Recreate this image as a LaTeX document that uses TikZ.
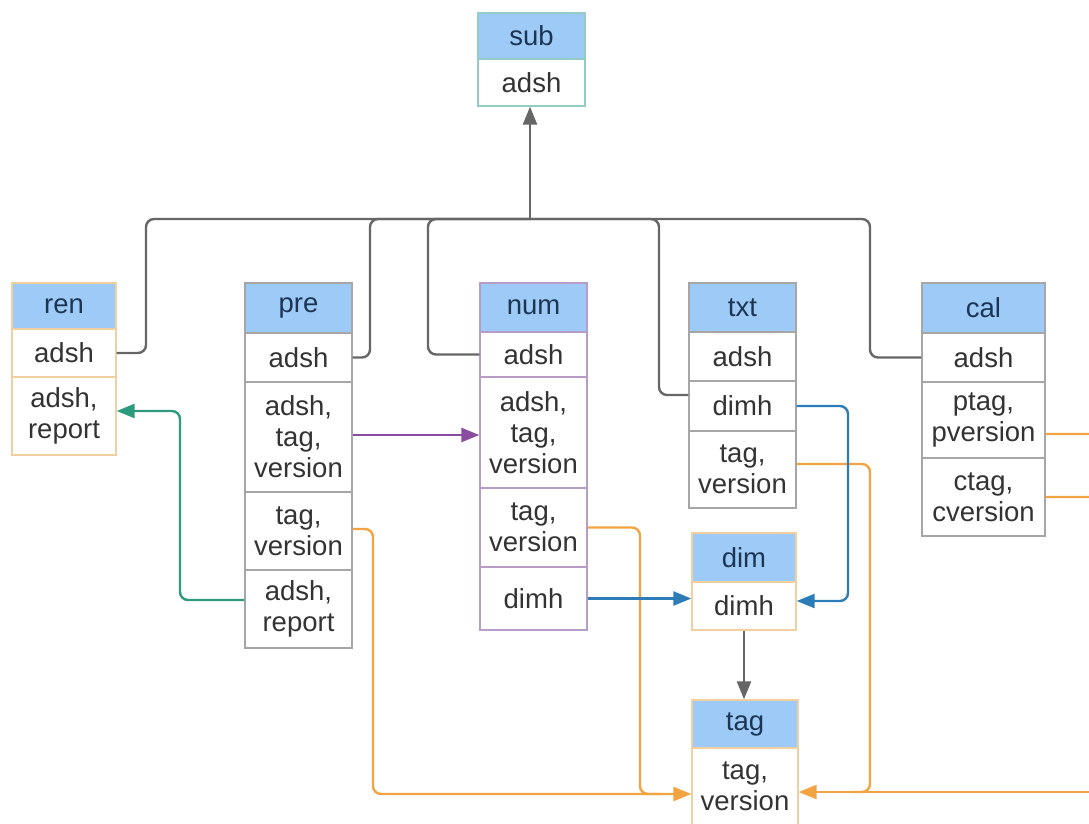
\documentclass[tikz,border=0pt]{standalone}
\usepackage{fontspec}
\setmainfont{Liberation Sans}
\usetikzlibrary{arrows.meta,calc}
\definecolor{hdrblue}{HTML}{9DCAF6}
\definecolor{hdrtext}{HTML}{1C3553}
\definecolor{celltext}{HTML}{333333}
\definecolor{gline}{HTML}{666666}
\definecolor{gbox}{HTML}{A6A6A6}
\definecolor{obox}{HTML}{F2CF9E}
\definecolor{pbox}{HTML}{B79CC8}
\definecolor{tbox}{HTML}{93CBC5}
\definecolor{purplelink}{HTML}{8A4C9E}
\definecolor{greenlink}{HTML}{2E9A7D}
\definecolor{orangelink}{HTML}{F2A443}
\definecolor{bluelink}{HTML}{2C7CB8}
\tikzset{
  txtfont/.style={font=\fontsize{27.5}{31}\selectfont},
  hdr/.style={draw=#1, fill=hdrblue, text=hdrtext, inner sep=0pt, line width=1.3pt, txtfont},
  cell/.style={draw=#1, fill=white, text=celltext, inner sep=0pt, align=center, line width=1.3pt, txtfont},
  link/.style={line width=2.4pt, rounded corners=8pt},
  arr/.style={-{Triangle[length=18pt,width=14pt]}},
}
\begin{document}
\begin{tikzpicture}[x=1pt,y=-1pt]
\useasboundingbox (0,0) rectangle (1089,823);
\clip (0,0) rectangle (1089,823);

% ---- sub
\node[hdr=tbox, minimum width=107pt, minimum height=46pt] (sub) at (531.5,36) {sub};
\node[cell=tbox, minimum width=107pt, minimum height=47pt] (subA) at (531.5,82.5) {adsh};

% ---- ren
\node[hdr=obox, minimum width=104pt, minimum height=46pt] (ren) at (64,306) {ren};
\node[cell=obox, minimum width=104pt, minimum height=48pt] (renA) at (64,353) {adsh};
\node[cell=obox, minimum width=104pt, minimum height=78pt] (renR) at (64,416) {adsh,\\report};

% ---- pre
\node[hdr=gbox, minimum width=107pt, minimum height=50pt] (pre) at (298.5,308) {pre};
\node[cell=gbox, minimum width=107pt, minimum height=49pt] (preA) at (298.5,357.5) {adsh};
\node[cell=gbox, minimum width=107pt, minimum height=110pt] (preATV) at (298.5,437) {adsh,\\tag,\\version};
\node[cell=gbox, minimum width=107pt, minimum height=78pt] (preTV) at (298.5,531) {tag,\\version};
\node[cell=gbox, minimum width=107pt, minimum height=78pt] (preAR) at (298.5,609) {adsh,\\report};

% ---- num
\node[hdr=pbox, minimum width=107pt, minimum height=49pt] (num) at (533.5,307.5) {num};
\node[cell=pbox, minimum width=107pt, minimum height=45pt] (numA) at (533.5,354.5) {adsh};
\node[cell=pbox, minimum width=107pt, minimum height=111pt] (numATV) at (533.5,432.5) {adsh,\\tag,\\version};
\node[cell=pbox, minimum width=107pt, minimum height=79pt] (numTV) at (533.5,527.5) {tag,\\version};
\node[cell=pbox, minimum width=107pt, minimum height=63pt] (numD) at (533.5,598.5) {dimh};

% ---- txt
\node[hdr=gbox, minimum width=107pt, minimum height=49pt] (txt) at (742.5,307.5) {txt};
\node[cell=gbox, minimum width=107pt, minimum height=49pt] (txtA) at (742.5,356.5) {adsh};
\node[cell=gbox, minimum width=107pt, minimum height=50pt] (txtD) at (742.5,406) {dimh};
\node[cell=gbox, minimum width=107pt, minimum height=77pt] (txtTV) at (742.5,469.5) {tag,\\version};

% ---- dim
\node[hdr=obox, minimum width=104pt, minimum height=49pt] (dim) at (744,557.5) {dim};
\node[cell=obox, minimum width=104pt, minimum height=48pt] (dimD) at (744,606) {dimh};

% ---- tag
\node[hdr=obox, minimum width=106pt, minimum height=48pt] (tag) at (745,724) {tag};
\node[cell=obox, minimum width=106pt, minimum height=77pt] (tagB) at (745,786.5) {tag,\\version};

% ---- cal
\node[hdr=gbox, minimum width=123pt, minimum height=50pt] (cal) at (983.5,308) {cal};
\node[cell=gbox, minimum width=123pt, minimum height=49pt] (calA) at (983.5,357.5) {adsh};
\node[cell=gbox, minimum width=123pt, minimum height=76pt] (calP) at (983.5,420) {ptag,\\pversion};
\node[cell=gbox, minimum width=123pt, minimum height=78pt] (calC) at (983.5,497) {ctag,\\cversion};

% ---- adsh bus up to sub
\coordinate (bus) at (530,219);
\draw[link, gline, arr] (bus) -- (bus |- subA.south);
\draw[link, gline] (renA.east) -- (146,353) -- (146,219) -- (bus);
\draw[link, gline] (preA.east) -- (370,357.5) -- (370,219) -- (bus);
\draw[link, gline] (numA.west) -- (428,354.5) -- (428,219) -- (bus);
\coordinate (txtIn) at ([yshift=11pt]txtD.west);
\draw[link, gline] (txtIn) -- (659,395) -- (659,219) -- (bus);
\draw[link, gline] (calA.west) -- (870,357.5) -- (870,219) -- (bus);

% ---- pre -> num
\coordinate (pn) at ([yshift=2pt]preATV.east);
\draw[link, purplelink, arr] (pn) -- (pn -| numATV.west);

% ---- pre -> ren
\coordinate (rr) at ([yshift=5pt]renR.east);
\draw[link, greenlink, arr] ([yshift=9pt]preAR.west) -- (180,600) -- (180,411) -- (rr);

% ---- tag,version links into tag
\coordinate (tagL) at ([yshift=-7.5pt]tagB.west);
\coordinate (tagR) at ([yshift=-5.5pt]tagB.east);
\coordinate (jL) at (660,794);
\coordinate (jR) at (850,792);
\coordinate (offR) at (1110,792);
\draw[link, orangelink, arr] ([yshift=2pt]preTV.east) -- (373,529) -- (373,794) -- (tagL);
\draw[link, orangelink] (numTV.east) -- (640,527.5) -- (640,794) -- (jL);
\draw[link, orangelink] ([yshift=5.5pt]txtTV.east) -- (870,464) -- (870,792) -- (jR);
\draw[link, orangelink] ([yshift=-14pt]calP.east) -- (1110,434) -- (offR);
\draw[link, orangelink] (calC.east) -- (1110,497) -- (offR);
\draw[link, orangelink, arr] (offR) -- (tagR);

% ---- dimh links into dim
\draw[link, bluelink, arr] (numD.east) -- (numD.east -| dimD.west);
\coordinate (dr) at ([yshift=5pt]dimD.east);
\draw[link, bluelink, arr] (txtD.east) -- (848,406) -- (848,601) -- (dr);

% ---- dim -> tag
\draw[link, gline, arr] (dimD.south) -- (dimD.south |- tag.north);
\end{tikzpicture}
\end{document}
